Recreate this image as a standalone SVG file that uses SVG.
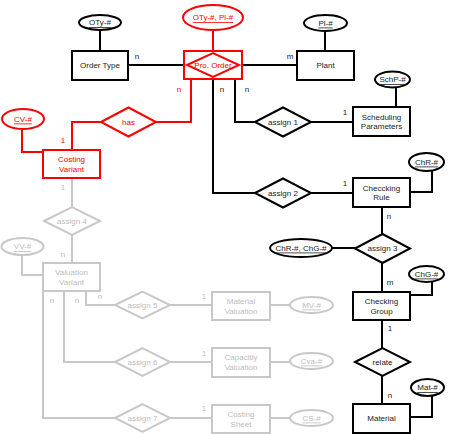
<svg xmlns="http://www.w3.org/2000/svg" width="454" height="434" viewBox="0 0 454 434">
<style>
text{font-family:"Liberation Sans",Arial,sans-serif;font-size:8px;text-anchor:middle;dominant-baseline:central}
.k rect,.k ellipse,.k polygon{fill:#fff;stroke:#000;stroke-width:2}
.k text{fill:#222}
.r rect,.r ellipse,.r polygon{fill:#fff;stroke:#f00;stroke-width:2}
.r text{fill:#f00}
.g rect,.g ellipse,.g polygon{fill:#fff;stroke:#c8c8c8;stroke-width:2}
.g text{fill:#bcbcbc}
.u{text-decoration:underline}
.ck{fill:none;stroke:#000;stroke-width:2}
.cr{fill:none;stroke:#f00;stroke-width:2}
.cg{fill:none;stroke:#c8c8c8;stroke-width:2}
.lk{fill:#222}.lr{fill:#f00}.lg{fill:#bcbcbc}
</style>
<rect width="454" height="434" fill="#fff"/>
<g id="connectors">
<path class="ck" d="M100 30V51M128 65H184M242 65H297M325 31V51M213 79V193H255M311 193H353M235 79V122H255M311 122H353M396 87V107M432 171V192H410M382 207V234M332 248H355M382 263V292M432 282V295H410M382 320V348M382 376V404M432 396V417H410"/>
<path class="cr" d="M213 30V51M191 79V122H156M101 122H72V150M22 129V152H43"/>
<path class="cg" d="M72 178V207M72 235V263M22 255V275H43M86 291V305H115M170 305H212M64 291V362H115M170 362H212M43 291V418H115M170 418H212M270 305H290M270 362H290M270 418H290"/>
<g font-size="8">
<text x="137" y="56" class="lk">n</text>
<text x="290" y="56" class="lk">m</text>
<text x="179" y="89" class="lr">n</text>
<text x="222" y="89" class="lk">n</text>
<text x="247" y="89" class="lk">n</text>
<text x="345" y="112" class="lk">1</text>
<text x="63" y="140" class="lr">1</text>
<text x="345" y="183" class="lk">1</text>
<text x="389" y="216" class="lk">n</text>
<text x="390" y="282" class="lk">m</text>
<text x="390" y="328" class="lk">1</text>
<text x="390" y="395" class="lk">n</text>
<text x="63" y="187" class="lg">1</text>
<text x="63" y="254" class="lg">n</text>
<text x="52" y="300" class="lg">n</text>
<text x="77" y="300" class="lg">n</text>
<text x="100" y="296" class="lg">n</text>
<text x="204" y="296" class="lg">1</text>
<text x="204" y="353" class="lg">1</text>
<text x="204" y="408" class="lg">1</text>
</g>
</g>
<g id="order_type" class="k"><rect x="72" y="51" width="56" height="29"/><text x="100" y="65.5">Order Type</text></g>
<g id="oty_key" class="k"><ellipse cx="100" cy="22.5" rx="21" ry="7.5"/><text x="100" y="22.5" class="u">OTy-#</text></g>
<g id="pro_order" class="r"><rect x="184" y="51" width="58" height="28"/><polygon points="187,65 213,53 239,65 213,77"/><text x="213" y="65">Pro. Order</text></g>
<g id="pro_order_key" class="r"><ellipse cx="213" cy="17.5" rx="30" ry="12.5"/><text x="213" y="17.5" class="u">OTy-#, Pl-#</text></g>
<g id="plant" class="k"><rect x="297" y="51" width="57" height="29"/><text x="325.5" y="65.5">Plant</text></g>
<g id="pl_key" class="k"><ellipse cx="325.5" cy="23" rx="21.5" ry="8"/><text x="325.5" y="23" class="u">Pl-#</text></g>
<g id="assign1" class="k"><polygon points="255,122 283,107.5 311,122 283,136.5"/><text x="283" y="122">assign 1</text></g>
<g id="scheduling_parameters" class="k"><rect x="353" y="107" width="57" height="29"/><text x="381.5" y="117">Scheduling</text><text x="381.5" y="126.5">Parameters</text></g>
<g id="schp_key" class="k"><ellipse cx="392.5" cy="79.5" rx="17.5" ry="8"/><text x="392.5" y="79.5" class="u">SchP-#</text></g>
<g id="has" class="r"><polygon points="101,122 128.5,107.5 156,122 128.5,136.5"/><text x="128.5" y="122">has</text></g>
<g id="costing_variant" class="r"><rect x="43" y="150" width="57" height="28"/><text x="71.5" y="159.5">Costing</text><text x="71.5" y="169">Variant</text></g>
<g id="cv_key" class="r"><ellipse cx="23" cy="119" rx="21" ry="10"/><text x="23" y="119" class="u">CV-#</text></g>
<g id="assign2" class="k"><polygon points="255,193 283,178.5 311,193 283,207.5"/><text x="283" y="193">assign 2</text></g>
<g id="checcking_rule" class="k"><rect x="353" y="178" width="57" height="29"/><text x="381.5" y="188">Checcking</text><text x="381.5" y="197.5">Rule</text></g>
<g id="chr_key" class="k"><ellipse cx="426.5" cy="162" rx="17.5" ry="9"/><text x="426.5" y="162" class="u">ChR-#</text></g>
<g id="assign3" class="k"><polygon points="355,248.5 382.5,234 410,248.5 382.5,263"/><text x="382.5" y="248.5">assign 3</text></g>
<g id="assign3_key" class="k"><ellipse cx="301" cy="248" rx="31" ry="9"/><text x="301" y="248" class="u">ChR-#, ChG-#</text></g>
<g id="checking_group" class="k"><rect x="353" y="292" width="57" height="28"/><text x="381.5" y="301.5">Checking</text><text x="381.5" y="311">Group</text></g>
<g id="chg_key" class="k"><ellipse cx="426.5" cy="274" rx="17.5" ry="8"/><text x="426.5" y="274" class="u">ChG-#</text></g>
<g id="relate" class="k"><polygon points="355,362 382.5,348 410,362 382.5,376"/><text x="382.5" y="362">relate</text></g>
<g id="material" class="k"><rect x="353" y="404" width="57" height="29"/><text x="381.5" y="418.5">Material</text></g>
<g id="mat_key" class="k"><ellipse cx="427.5" cy="387.5" rx="16.5" ry="8.5"/><text x="427.5" y="387.5" class="u">Mat-#</text></g>
<g id="assign4" class="g"><polygon points="44,221 72,207 100,221 72,235"/><text x="72" y="221">assign 4</text></g>
<g id="valuation_variant" class="g"><rect x="43" y="263" width="57" height="28"/><text x="71.5" y="272.5">Valuation</text><text x="71.5" y="282">Variant</text></g>
<g id="vv_key" class="g"><ellipse cx="22.5" cy="246.5" rx="21" ry="8.5"/><text x="22.5" y="246.5" class="u">VV-#</text></g>
<g id="assign5" class="g"><polygon points="115,305 142.5,291.5 170,305 142.5,318.5"/><text x="142.5" y="305">assign 5</text></g>
<g id="assign6" class="g"><polygon points="115,362 142.5,348 170,362 142.5,376"/><text x="142.5" y="362">assign 6</text></g>
<g id="assign7" class="g"><polygon points="115,418 142.5,404 170,418 142.5,432"/><text x="142.5" y="418">assign 7</text></g>
<g id="material_valuation" class="g"><rect x="212" y="292" width="58" height="28"/><text x="241" y="301.5">Material</text><text x="241" y="311">Valuation</text></g>
<g id="capacity_valuation" class="g"><rect x="212" y="348" width="58" height="29"/><text x="241" y="357.5">Capacitiy</text><text x="241" y="367">Valuation</text></g>
<g id="costing_sheet" class="g"><rect x="212" y="405" width="58" height="28"/><text x="241" y="414.5">Costing</text><text x="241" y="424">Sheet</text></g>
<g id="mv_key" class="g"><ellipse cx="311.5" cy="305" rx="21.5" ry="8"/><text x="311.5" y="305" class="u">MV-#</text></g>
<g id="cva_key" class="g"><ellipse cx="311.5" cy="361" rx="21.5" ry="8"/><text x="311.5" y="361" class="u">Cva-#</text></g>
<g id="cs_key" class="g"><ellipse cx="311.5" cy="418" rx="21.5" ry="8"/><text x="311.5" y="418" class="u">CS-#</text></g>
</svg>
